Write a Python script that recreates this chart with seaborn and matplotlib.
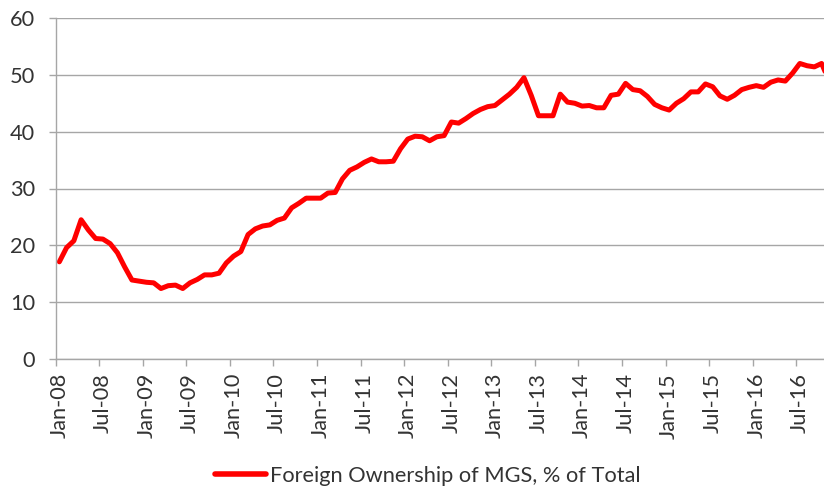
import numpy as np
import pandas as pd
import matplotlib
matplotlib.use("Agg")
import matplotlib.pyplot as plt
import seaborn as sns

# ---- data -------------------------------------------------------------
start_year = 2008
values = [
    17.1, 19.6, 20.8, 24.5, 22.7, 21.2, 21.1, 20.3, 18.7, 16.2, 13.9, 13.7,
    13.5, 13.4, 12.4, 12.9, 13.0, 12.4, 13.4, 14.0, 14.8, 14.8, 15.1, 16.9,
    18.1, 18.9, 21.9, 22.9, 23.4, 23.6, 24.4, 24.8, 26.6, 27.4, 28.3, 28.3,
    28.3, 29.2, 29.3, 31.7, 33.2, 33.8, 34.6, 35.2, 34.7, 34.7, 34.8, 37.0,
    38.7, 39.2, 39.1, 38.4, 39.1, 39.3, 41.7, 41.5, 42.3, 43.2, 43.9, 44.4,
    44.6, 45.6, 46.6, 47.8, 49.5, 46.4, 42.8, 42.8, 42.8, 46.6, 45.2, 45.0,
    44.5, 44.6, 44.2, 44.2, 46.4, 46.6, 48.5, 47.4, 47.2, 46.2, 44.8, 44.2,
    43.8, 45.0, 45.8, 47.0, 47.0, 48.4, 47.9, 46.3, 45.7, 46.4, 47.4, 47.8,
    48.1, 47.8, 48.7, 49.1, 48.9, 50.3, 52.0, 51.6, 51.4, 52.0, 49.0,
]
series_name = "Foreign Ownership of MGS, % of Total"
month_names = ["Jan", "Feb", "Mar", "Apr", "May", "Jun",
               "Jul", "Aug", "Sep", "Oct", "Nov", "Dec"]
dates = [f"{month_names[i % 12]}-{(start_year + i // 12) % 100:02d}"
         for i in range(len(values))]
y_ticks = [0, 10, 20, 30, 40, 50, 60]

df = pd.DataFrame({"idx": np.arange(len(values)), "value": values,
                   "date": dates, "series": series_name})

# ---- style ------------------------------------------------------------
sns.set_theme(style="white")
plt.rcParams["font.family"] = ["Lato", "DejaVu Sans"]
text_color = "#333333"
grid_color = "#A6A6A6"
fs = 15.7

fig = plt.figure(figsize=(8.24, 4.91), dpi=100)
ax = fig.add_axes([55.7 / 824, 1 - 359 / 491, (824 - 55.7) / 824, (359 - 18) / 491])

sns.lineplot(data=df, x="idx", y="value", hue="series",
             palette=["#FF0000"], linewidth=3.6, ax=ax, legend=True)

ax.set_xlim(-0.5, 105.33)
ax.set_ylim(0, 60)
ax.set_yticks(y_ticks)
ax.set_yticklabels([str(v) for v in y_ticks])
ax.yaxis.grid(True, color=grid_color, linewidth=1.0)
ax.set_axisbelow(True)

label_pos = list(range(0, 104, 6))
ax.set_xticks(label_pos)
ax.set_xticklabels([dates[p] for p in label_pos], rotation=90)
ax.set_xticks([p - 0.5 for p in label_pos], minor=True)
ax.tick_params(axis="x", which="major", length=0, pad=10,
               labelsize=fs, labelcolor=text_color)
ax.tick_params(axis="x", which="minor", length=5, width=1,
               color=grid_color, direction="out", bottom=True)
ax.tick_params(axis="y", which="major", length=5, width=1,
               color=grid_color, direction="out", left=True, pad=10,
               labelsize=fs, labelcolor=text_color)

for s in ["top", "right"]:
    ax.spines[s].set_visible(False)
for s in ["left", "bottom"]:
    ax.spines[s].set_color(grid_color)
    ax.spines[s].set_linewidth(1.0)

ax.set_xlabel("")
ax.set_ylabel("")

handles, labels = ax.get_legend_handles_labels()
ax.get_legend().remove()
leg = fig.legend(handles, labels, loc="center left",
                 bbox_to_anchor=(215 / 824, 1 - 476 / 491),
                 frameon=False, fontsize=fs, borderpad=0, borderaxespad=0,
                 handlelength=2.35, handletextpad=0.18, labelcolor=text_color)
for line in leg.get_lines():
    line.set_linewidth(4.0)

fig.savefig("out.png", dpi=100)
